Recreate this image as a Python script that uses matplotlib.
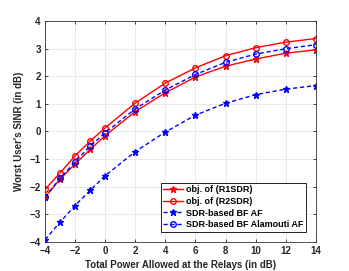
import numpy as np
import matplotlib.pyplot as plt

power = [-4, -3, -2, -1, 0, 2, 4, 6, 8, 10, 12, 14]
r1sdr = [-2.38, -1.72, -1.18, -0.65, -0.15, 0.72, 1.40, 1.97, 2.36, 2.62, 2.83, 2.95]
r2sdr = [-2.10, -1.50, -0.88, -0.35, 0.13, 1.03, 1.75, 2.30, 2.74, 3.03, 3.23, 3.36]
sdr_af = [-3.92, -3.28, -2.68, -2.13, -1.60, -0.73, -0.02, 0.59, 1.02, 1.33, 1.53, 1.66]
sdr_alam = [-2.38, -1.70, -1.10, -0.53, -0.05, 0.82, 1.50, 2.06, 2.50, 2.80, 2.99, 3.14]

labels = ['obj. of (R1SDR)', 'obj. of (R2SDR)', 'SDR-based BF AF', 'SDR-based BF Alamouti AF']
xticks = [-4, -2, 0, 2, 4, 6, 8, 10, 12, 14]
yticks = [-4, -3, -2, -1, 0, 1, 2, 3, 4]

plt.rcParams['font.family'] = ['Liberation Sans', 'DejaVu Sans']
plt.rcParams['font.weight'] = 'bold'

fig = plt.figure(figsize=(3.49, 2.71), dpi=100)
ax = fig.add_axes([0.129, 0.107, 0.776, 0.816])

ax.plot(power, r1sdr, 'r-', marker='*', ms=5, lw=1, label=labels[0])
ax.plot(power, r2sdr, 'r-', marker='o', ms=4, mfc='none', lw=1, label=labels[1])
ax.plot(power, sdr_af, 'b--', marker='*', ms=5, lw=1, dashes=(3, 2), label=labels[2])
ax.plot(power, sdr_alam, 'b--', marker='o', ms=4, mfc='none', lw=1, dashes=(3, 2), label=labels[3])

ax.set_xlim(-4, 14)
ax.set_ylim(-4, 4)
ax.set_xticks(xticks)
ax.set_yticks(yticks)
ax.tick_params(labelsize=7, direction='in', length=2, width=0.5, top=True, right=True,
               labelcolor='#262626', pad=3)
for lab in ax.get_xticklabels() + ax.get_yticklabels():
    lab.set_fontweight('bold')
ax.grid(True, color='#e6e6e6', lw=0.6)
ax.set_axisbelow(True)
for s in ax.spines.values():
    s.set_linewidth(0.6)
    s.set_color('#333333')

ax.set_xlabel('Total Power Allowed at the Relays (in dB)', fontsize=7, fontweight='bold',
              labelpad=3, color='#262626')
ax.set_ylabel("Worst User's SINR (in dB)", fontsize=7, fontweight='bold', labelpad=4,
              color='#262626')

leg = ax.legend(loc='lower right', prop={'weight': 'bold', 'size': 6.5},
                fancybox=False, edgecolor='black', framealpha=1,
                borderpad=0.3, labelspacing=0.3, handlelength=2.2, handletextpad=0.3,
                borderaxespad=1.1)
leg.get_frame().set_linewidth(0.6)

fig.savefig('out.png', dpi=100)
